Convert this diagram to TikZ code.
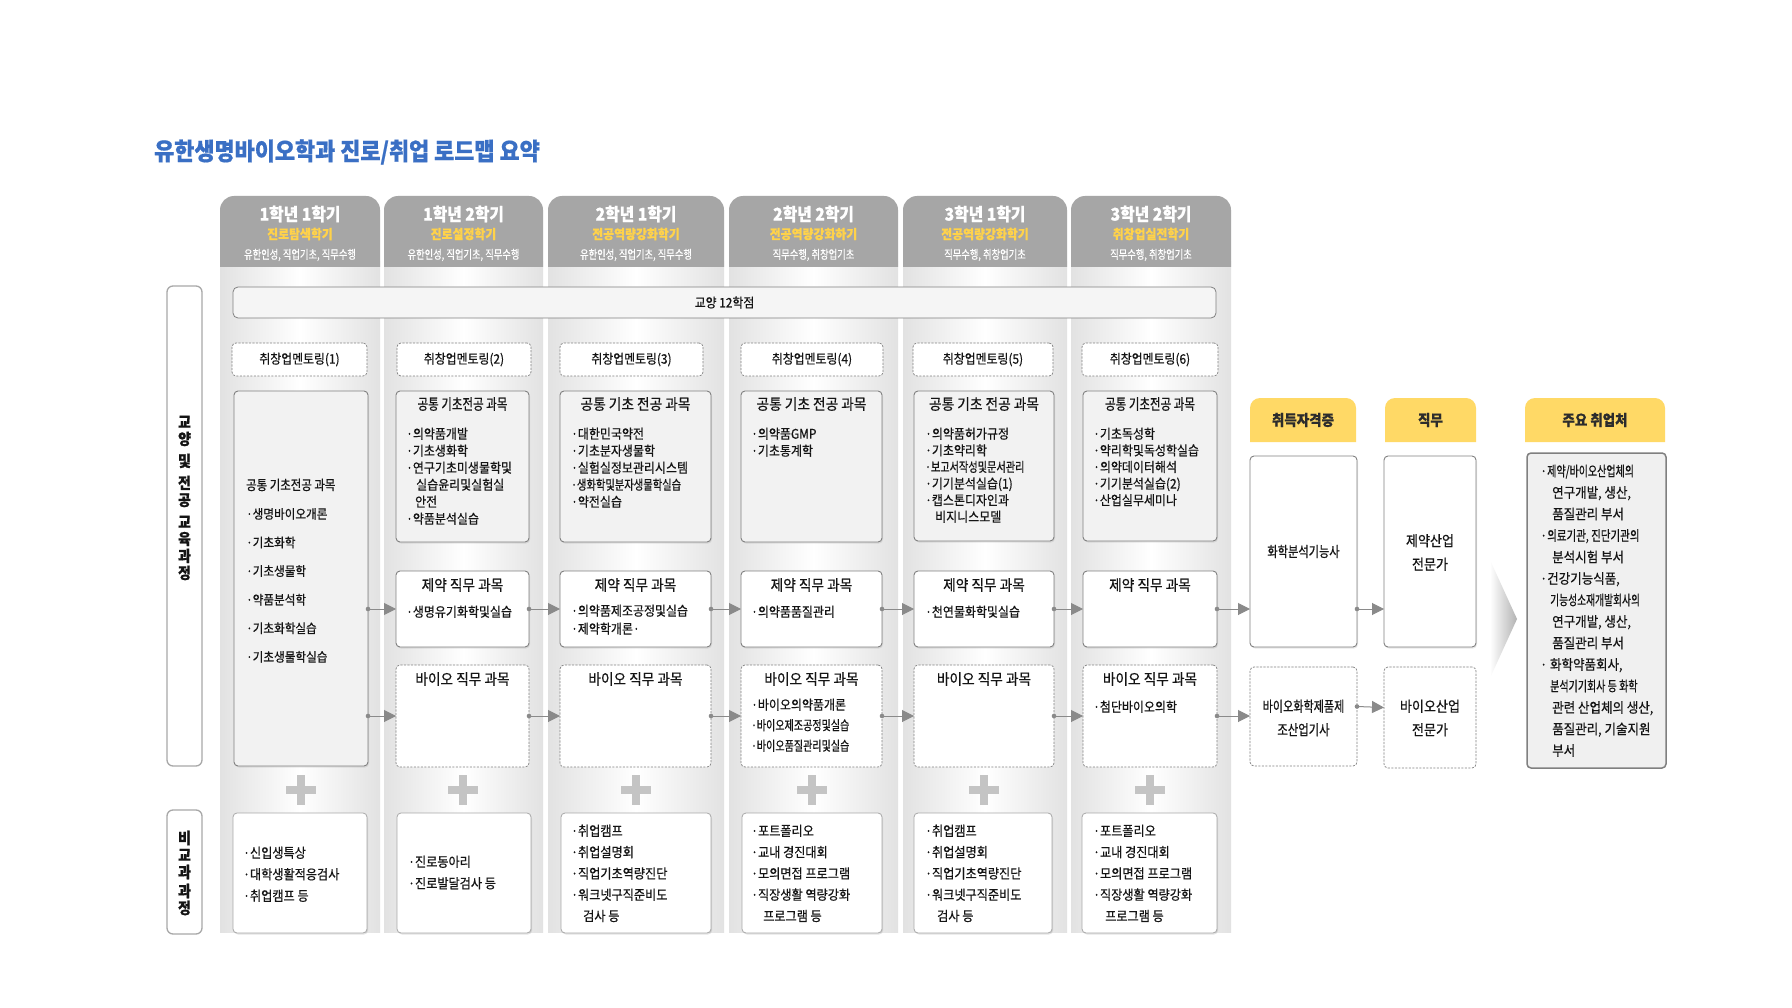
\documentclass[tikz,border=0pt]{standalone}
\usepackage{fontspec}
\setmainfont{Noto Sans CJK KR}[FakeStretch=0.9,FakeBold=0.6]
\usepackage{graphicx}
\usetikzlibrary{arrows.meta,shadows,calc}
\definecolor{titleblue}{HTML}{3A6FC4}
\definecolor{hgray}{HTML}{A6A6A6}
\definecolor{colsh}{HTML}{E2E2E2}
\definecolor{bgray}{HTML}{808080}
\definecolor{lgray}{HTML}{A8A8A8}
\definecolor{bfill}{HTML}{F2F2F2}
\definecolor{yel}{HTML}{FFD966}
\definecolor{yeltxt}{HTML}{FFD24A}
\definecolor{plusg}{HTML}{C4C4C4}
\definecolor{arrg}{HTML}{8A8A8A}
\definecolor{txt}{HTML}{141414}
\newcommand\sq[2]{\scalebox{#1}[1]{#2}}
\newcommand\bx[6]{\node[#2,anchor=north west,inner sep=0pt,outer sep=0pt,minimum width={#5-#3},minimum height={#6-#4}] (#1) at (#3,#4) {};}
\newcommand\semcol[6]{%
  \shade[left color=colsh,right color=colsh,middle color=white] (#1,262) rectangle (#2,932);
  \fill[hgray] (#1,267) [rounded corners=14pt] -- (#1,196) -- (#2,196) [sharp corners] -- (#2,267) -- cycle;
  \node[hdA] (#3a) at ({(#1+#2)/2},214) {#4};
  \node[hdB] (#3b) at ({(#1+#2)/2},234) {#5};
  \node[hdC] (#3c) at ({(#1+#2)/2},255) {\sq{0.86}{#6}};
}
\newcommand\conn[2]{\draw[conn] (#1) -- (#2); \fill[arrg] (#1) circle (2.3pt);}
\begin{document}
\begin{tikzpicture}[x=1pt,y=-1pt,
  hdA/.style={font=\fontsize{17.5}{20}\selectfont\bfseries,text=white,inner sep=0pt},
  hdB/.style={font=\fontsize{13.2}{15}\selectfont\bfseries,text=yeltxt,inner sep=0pt},
  hdC/.style={font=\fontsize{12}{14}\selectfont,text=white,inner sep=0pt},
  gbox/.style={draw=bgray,fill=bfill,rounded corners=4pt,line width=0.9pt,drop shadow={opacity=0.18,shadow xshift=1pt,shadow yshift=-1.5pt}},
  wbox/.style={draw=bgray,fill=white,rounded corners=4pt,line width=0.9pt,drop shadow={opacity=0.18,shadow xshift=1pt,shadow yshift=-1.5pt}},
  dbox/.style={draw=bgray,fill=white,rounded corners=4pt,line width=0.7pt,dash pattern=on 2.2pt off 1.3pt},
  nbox/.style={draw=lgray,fill=white,rounded corners=4pt,line width=0.8pt,drop shadow={opacity=0.22,shadow xshift=1pt,shadow yshift=-1.5pt}},
  gybox/.style={draw=bgray,fill=white!96!black,rounded corners=5pt,line width=0.8pt},
  lbox/.style={draw=lgray,fill=white,rounded corners=6pt,line width=1.3pt},
  mainbox/.style={draw=bgray,fill=white!94!black,rounded corners=4pt,line width=1.5pt},
  ttl/.style={font=\fontsize{15.2}{17}\selectfont,text=txt,inner sep=0pt},
  itm/.style={font=\fontsize{13.3}{17}\selectfont,text=txt,align=left,anchor=north west,inner sep=0pt},
  ctr/.style={font=\fontsize{13.2}{15}\selectfont,text=txt,inner sep=0pt},
  vlab/.style={font=\fontsize{15.5}{17}\selectfont\bfseries,text=txt,align=center,inner sep=0pt},
  yh/.style={font=\fontsize{15}{17}\selectfont\bfseries,text=txt!90,inner sep=0pt},
  rt/.style={font=\fontsize{14.5}{23.5}\selectfont,text=txt,align=center,inner sep=0pt},
  conn/.style={draw=arrg,line width=1pt,-{Triangle[length=12pt,width=12pt]}},
  plus/.style={draw=plusg,line width=7.5pt}
]
\useasboundingbox (0,0) rectangle (1792,1008);
\fill[white] (0,0) rectangle (1792,1008);

% title
\node[anchor=west,font=\fontsize{24.3}{28}\selectfont\bfseries,text=titleblue,inner sep=0pt] (title) at (154,152) {유한생명바이오학과 진로/취업 로드맵 요약};

% semester columns
\semcol{220}{380}{h1}{1학년 1학기}{진로탐색학기}{유한인성, 직업기초, 직무수행}
\semcol{384}{543}{h2}{1학년 2학기}{진로설정학기}{유한인성, 직업기초, 직무수행}
\semcol{548}{724}{h3}{2학년 1학기}{전공역량강화학기}{유한인성, 직업기초, 직무수행}
\semcol{729}{898}{h4}{2학년 2학기}{전공역량강화하기}{직무수행, 취창업기초}
\semcol{903}{1067}{h5}{3학년 1학기}{전공역량강화학기}{직무수행, 취창업기초}
\semcol{1071}{1231}{h6}{3학년 2학기}{취창업실전학기}{직무수행, 취창업기초}

% left labels
\bx{lb1}{lbox}{167}{286}{202}{766}
\node[vlab] (lb1t) at (184.5,498) {교\\양\\[5pt]및\\[5pt]전\\공\\[5pt]교\\육\\과\\정};
\bx{lb2}{lbox}{167}{810}{202}{934}
\node[vlab] (lb2t) at (184.5,873) {비\\교\\과\\[2pt]과\\정};

% 교양
\bx{gy}{gybox}{233}{287}{1216}{318}
\node[ctr] (gyt) at (gy) {교양 12학점};

% mentoring
\bx{m1}{dbox}{232}{343}{367}{376}
\bx{m2}{dbox}{397}{343}{531}{376}
\bx{m3}{dbox}{560}{343}{703}{376}
\bx{m4}{dbox}{741}{343}{883}{376}
\bx{m5}{dbox}{913}{343}{1053}{376}
\bx{m6}{dbox}{1082}{343}{1218}{376}
\node[ctr] (m1t) at (m1) {취창업멘토링(1)};
\node[ctr] (m2t) at (m2) {취창업멘토링(2)};
\node[ctr] (m3t) at (m3) {취창업멘토링(3)};
\node[ctr] (m4t) at (m4) {취창업멘토링(4)};
\node[ctr] (m5t) at (m5) {취창업멘토링(5)};
\node[ctr] (m6t) at (m6) {취창업멘토링(6)};

% 공통 기초 전공 과목
\bx{c1b}{gbox}{234}{391}{368}{766}
\node[itm,font=\fontsize{12.9}{28.6}\selectfont] (c1bt) at (246,478.5) {\sq{0.92}{\fontsize{13.8}{15}\selectfont 공통 기초전공 과목}\\·생명바이오개론\\·기초화학\\·기초생물학\\·약품분석학\\·기초화학실습\\·기초생물학실습};

\bx{c2g}{gbox}{396}{391}{529}{542}
\node[ttl] (c2gt) at ([yshift=-13pt]c2g.north) {\sq{0.84}{공통 기초전공 과목}};
\node[itm] (c2gi) at (406,427.5) {·의약품개발\\·기초생화학\\·연구기초미생물학및\\\hspace{10pt}실습윤리및실험실\\\hspace{9pt}안전\\·약품분석실습};

\bx{c3g}{gbox}{560}{391}{711}{542}
\node[ttl] (c3gt) at ([yshift=-13pt]c3g.north) {공통 기초 전공 과목};
\node[itm] (c3gi) at (571,427.5) {·대한민국약전\\·기초분자생물학\\·실험실정보관리시스템\\\sq{0.86}{·생화학및분자생물학실습}\\·약전실습};

\bx{c4g}{gbox}{741}{391}{882}{542}
\node[ttl] (c4gt) at ([yshift=-13pt]c4g.north) {공통 기초 전공 과목};
\node[itm] (c4gi) at (751,427.5) {·의약품GMP\\·기초통계학};

\bx{c5g}{gbox}{914}{391}{1054}{541}
\node[ttl] (c5gt) at ([yshift=-13pt]c5g.north) {공통 기초 전공 과목};
\node[itm,font=\fontsize{13.3}{16.6}\selectfont] (c5gi) at (925,427.5) {·의약품허가규정\\·기초약리학\\\sq{0.85}{·보고서작성및문서관리}\\·기기분석실습(1)\\·캡스톤디자인과\\\hspace{10pt}비지니스모델};

\bx{c6g}{gbox}{1083}{391}{1217}{541}
\node[ttl] (c6gt) at ([yshift=-13pt]c6g.north) {\sq{0.84}{공통 기초전공 과목}};
\node[itm,font=\fontsize{13.3}{16.6}\selectfont] (c6gi) at (1093,427.5) {·기초독성학\\·약리학및독성학실습\\·의약데이터해석\\·기기분석실습(2)\\·산업실무세미나};

% 제약 직무 과목
\bx{c2j}{wbox}{396}{571}{529}{647}
\bx{c3j}{wbox}{560}{571}{711}{647}
\bx{c4j}{wbox}{741}{571}{882}{647}
\bx{c5j}{wbox}{914}{571}{1054}{647}
\bx{c6j}{wbox}{1083}{571}{1217}{647}
\node[ttl] (c2jt) at ([yshift=-14pt]c2j.north) {제약 직무 과목};
\node[ttl] (c3jt) at ([yshift=-14pt]c3j.north) {제약 직무 과목};
\node[ttl] (c4jt) at ([yshift=-14pt]c4j.north) {제약 직무 과목};
\node[ttl] (c5jt) at ([yshift=-14pt]c5j.north) {제약 직무 과목};
\node[ttl] (c6jt) at ([yshift=-14pt]c6j.north) {제약 직무 과목};
\node[itm] (c2ji) at (406,605.5) {·생명유기화학및실습};
\node[itm,font=\fontsize{13.3}{18}\selectfont] (c3ji) at (571,604.5) {·의약품제조공정및실습\\·제약학개론·};
\node[itm] (c4ji) at (751,605.5) {·의약품품질관리};
\node[itm] (c5ji) at (925,605.5) {·천연물화학및실습};

% 바이오 직무 과목
\bx{c2b}{dbox}{396}{665}{529}{767}
\bx{c3b}{dbox}{560}{665}{711}{767}
\bx{c4b}{dbox}{741}{665}{882}{767}
\bx{c5b}{dbox}{914}{665}{1054}{767}
\bx{c6b}{dbox}{1083}{665}{1217}{767}
\node[ttl] (c2bt) at ([yshift=-14pt]c2b.north) {바이오 직무 과목};
\node[ttl] (c3bt) at ([yshift=-14pt]c3b.north) {바이오 직무 과목};
\node[ttl] (c4bt) at ([yshift=-14pt]c4b.north) {바이오 직무 과목};
\node[ttl] (c5bt) at ([yshift=-14pt]c5b.north) {바이오 직무 과목};
\node[ttl] (c6bt) at ([yshift=-14pt]c6b.north) {바이오 직무 과목};
\node[itm,font=\fontsize{13.3}{20.5}\selectfont] (c4bi) at (751,698.5) {·바이오의약품개론\\\sq{0.84}{·바이오제조공정및실습}\\\sq{0.84}{·바이오품질관리및실습}};
\node[itm] (c6bi) at (1093,700.5) {·첨단바이오의학};

% connectors
\conn{c1b.east |- c2j.west}{c2j.west}
\conn{c1b.east |- c2b.west}{c2b.west}
\conn{c2j.east}{c3j.west}
\conn{c3j.east}{c4j.west}
\conn{c4j.east}{c5j.west}
\conn{c5j.east}{c6j.west}
\conn{c2b.east}{c3b.west}
\conn{c3b.east}{c4b.west}
\conn{c4b.east}{c5b.west}
\conn{c5b.east}{c6b.west}

% plus signs
\foreach \px in {301,463,636,812,984,1150} {
  \draw[plus] (\px-15,790) -- (\px+15,790) (\px,775) -- (\px,805);
}

% 비교과
\bx{n1}{nbox}{233}{813}{367}{933}
\bx{n2}{nbox}{397}{813}{531}{933}
\bx{n3}{nbox}{561}{813}{711}{933}
\bx{n4}{nbox}{742}{813}{882}{933}
\bx{n5}{nbox}{914}{813}{1052}{933}
\bx{n6}{nbox}{1082}{813}{1217}{933}
\node[itm,font=\fontsize{13.5}{21.5}\selectfont] (n1t) at (243,846.5) {·신입생특상\\·대학생활적응검사\\·취업캠프 등};
\node[itm,font=\fontsize{13.5}{21.5}\selectfont] (n2t) at (408,855.5) {·진로동아리\\·진로발달검사 등};
\node[itm,font=\fontsize{13.5}{21.3}\selectfont] (n3t) at (571,824.5) {·취업캠프\\·취업설명회\\·직업기초역량진단\\·워크넷구직준비도\\\hspace{12pt}검사 등};
\node[itm,font=\fontsize{13.5}{21.3}\selectfont] (n4t) at (751,824.5) {·포트폴리오\\·교내 경진대회\\·모의면접 프로그램\\·직장생활 역량강화\\\hspace{12pt}프로그램 등};
\node[itm,font=\fontsize{13.5}{21.3}\selectfont] (n5t) at (925,824.5) {·취업캠프\\·취업설명회\\·직업기초역량진단\\·워크넷구직준비도\\\hspace{12pt}검사 등};
\node[itm,font=\fontsize{13.5}{21.3}\selectfont] (n6t) at (1093,824.5) {·포트폴리오\\·교내 경진대회\\·모의면접 프로그램\\·직장생활 역량강화\\\hspace{12pt}프로그램 등};

% right side: yellow headers
\fill[yel] (1250,442) [rounded corners=10pt] -- (1250,398) -- (1356,398) [sharp corners] -- (1356,442) -- cycle;
\fill[yel] (1385,442) [rounded corners=10pt] -- (1385,398) -- (1476,398) [sharp corners] -- (1476,442) -- cycle;
\fill[yel] (1525,442) [rounded corners=10pt] -- (1525,398) -- (1665,398) [sharp corners] -- (1665,442) -- cycle;
\node[yh] (y1) at (1303,420) {취득자격증};
\node[yh] (y2) at (1430.5,420) {직무};
\node[yh] (y3) at (1595,420) {주요 취업처};

\bx{q1}{wbox}{1250}{456}{1357}{647}
\bx{q2}{dbox}{1250}{667}{1357}{766}
\bx{j1}{wbox}{1384}{456}{1476}{647}
\bx{j2}{dbox}{1384}{667}{1476}{768}
\node[rt] (q1t) at (q1) {\sq{0.86}{화학분석기능사}};
\node[rt] (q2t) at (1303.5,718) {\sq{0.85}{바이오화학제품제}\\\sq{0.87}{조산업기사}};
\node[rt] (j1t) at (1430,552.5) {제약산업\\전문가};
\node[rt] (j2t) at (1430,718) {바이오산업\\전문가};

\conn{c6j.east}{q1.west |- c6j.east}
\conn{c6b.east}{q2.west |- c6b.east}
\conn{q1.east |- c6j.east}{j1.west |- c6j.east}
\conn{[yshift=10pt]q2.east}{[yshift=10pt]j2.west}

% chevron
\shade[left color=white,right color=black!30] (1490,560) -- (1517,619) -- (1490,678) -- cycle;

% 주요 취업처
\bx{mj}{mainbox}{1527}{453}{1666}{768}
\node[itm,font=\fontsize{13.9}{21.5}\selectfont] (mjt) at (1540,464.5) {·\sq{0.8}{제약/바이오산업체의}\\
\hspace{12pt}연구개발, 생산,\\
\hspace{12pt}품질관리 부서\\
·\sq{0.84}{의료기관, 진단기관의}\\
\hspace{12pt}분석시험 부서\\
·건강기능식품,\\
\hspace{10pt}\sq{0.78}{기능성소재개발회사의}\\
\hspace{12pt}연구개발, 생산,\\
\hspace{12pt}품질관리 부서\\
· 화학약품회사,\\
\hspace{10pt}\sq{0.8}{분석기기회사 등 화학}\\
\hspace{12pt}관련 산업체의 생산,\\
\hspace{12pt}품질관리, 기술지원\\
\hspace{12pt}부서};
\end{tikzpicture}
\end{document}
